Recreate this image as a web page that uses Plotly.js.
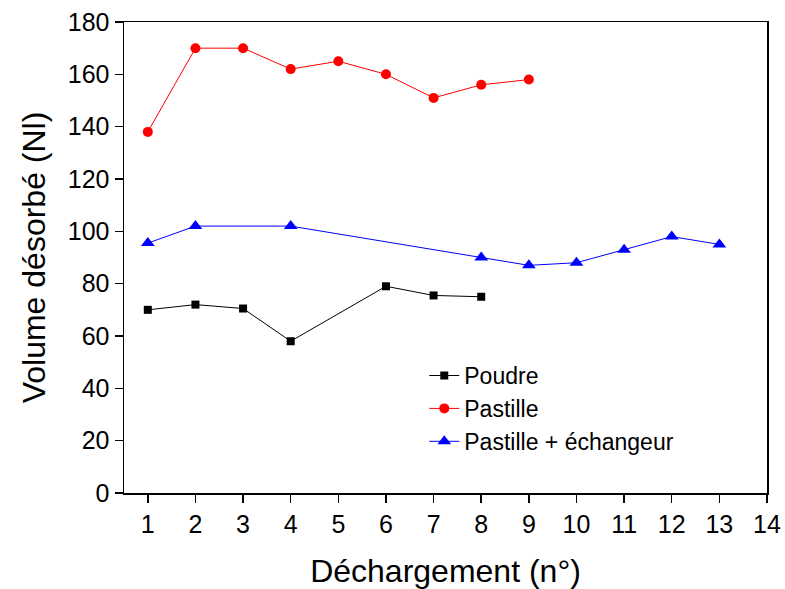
<!DOCTYPE html>
<html><head><meta charset="utf-8">
<script src="https://cdn.plot.ly/plotly-3.0.1.min.js"></script>
<style>body{margin:0;padding:0;background:#fff}#chart{width:785px;height:589px}</style>
</head><body><div id="chart"></div>
<script>
const poudreX = [1, 2, 3, 4, 6, 7, 8];
const poudreY = [70, 72, 70.5, 58, 79, 75.5, 75];
const pastilleX = [1, 2, 3, 4, 5, 6, 7, 8, 9];
const pastilleY = [138, 170, 170, 162, 165, 160, 151, 156, 158];
const echangeurX = [1, 2, 4, 8, 9, 10, 11, 12, 13];
const echangeurY = [95.5, 102, 102, 90, 87, 88, 93, 98, 95];
const xTicks = [1,2,3,4,5,6,7,8,9,10,11,12,13,14];
const yTicks = [0,20,40,60,80,100,120,140,160,180];

const font = "Liberation Sans, Arial, sans-serif";
const traces = [
  {x: poudreX, y: poudreY, name: 'Poudre', mode: 'lines+markers',
   line: {color: '#000000', width: 1}, marker: {symbol: 'square', size: 8, color: '#000000'}},
  {x: pastilleX, y: pastilleY, name: 'Pastille', mode: 'lines+markers',
   line: {color: '#ff0000', width: 1}, marker: {symbol: 'circle', size: 10, color: '#ff0000'}},
  {x: echangeurX, y: echangeurY, name: 'Pastille + échangeur', mode: 'lines+markers',
   line: {color: '#0000ff', width: 1}, marker: {symbol: 'triangle-up', size: 12, color: '#0000ff'}}
];
const layout = {
  width: 785, height: 589,
  margin: {l: 124, r: 18, t: 22, b: 96},
  paper_bgcolor: '#fff', plot_bgcolor: '#fff',
  font: {family: font, color: '#000'},
  showlegend: true,
  legend: {x: 0.467, y: 0.295, xanchor: 'left', yanchor: 'top', bgcolor: 'rgba(0,0,0,0)',
           font: {size: 23, family: font}, tracegroupgap: 0},
  xaxis: {range: [0.5, 14], tickvals: xTicks, ticktext: xTicks.map(String),
          ticks: 'outside', ticklen: 8, tickwidth: 1.5, tickcolor: '#000',
          showline: true, linecolor: '#000', linewidth: 1.5, mirror: true,
          showgrid: false, zeroline: false, tickfont: {size: 25},
          title: {text: 'Déchargement (n°)', font: {size: 32}, standoff: 24}},
  yaxis: {range: [0, 180], tickvals: yTicks, ticktext: yTicks.map(String),
          ticks: 'outside', ticklen: 8, tickwidth: 1.5, tickcolor: '#000',
          showline: true, linecolor: '#000', linewidth: 1.5, mirror: true,
          showgrid: false, zeroline: false, tickfont: {size: 25},
          title: {text: 'Volume désorbé (Nl)', font: {size: 32}, standoff: 12}}
};
Plotly.newPlot('chart', traces, layout, {displayModeBar: false, staticPlot: true});
</script></body></html>
